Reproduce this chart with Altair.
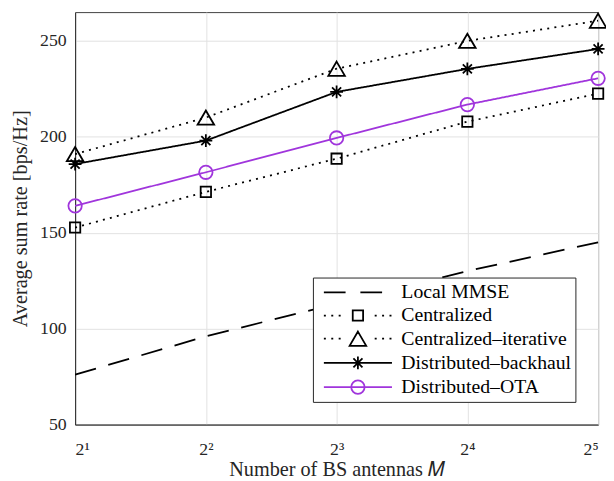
import altair as alt
import pandas as pd

# ---------------- data ----------------
M_values = [2, 4, 8, 16, 32]
x_tick_labels = ["2¹", "2²", "2³", "2⁴", "2⁵"]
y_ticks = [50, 100, 150, 200, 250]

series_names = ["Local MMSE", "Centralized", "Centralized–iterative",
                "Distributed–backhaul", "Distributed–OTA"]
local_mmse = [76, 96, 113, 130, 145]
centralized = [152.7, 171.3, 188.6, 207.9, 222.5]
centralized_iter = [191, 210, 235.5, 250, 260.5]
distributed_backhaul = [185.8, 198, 223.4, 235.4, 245.8]
distributed_ota = [164, 181.5, 199.4, 216.8, 230.5]

values = [local_mmse, centralized, centralized_iter, distributed_backhaul, distributed_ota]
rows = []
for name, vals in zip(series_names, values):
    for m, v in zip(M_values, vals):
        rows.append({"series": name, "M": m, "rate": v})
df = pd.DataFrame(rows)

# ---------------- styles ----------------
PURPLE = "#a035dc"
colors = ["black", "black", "black", "black", PURPLE]
dashes = [[22, 13], [2, 5.3], [2, 5.3], [1, 0], [1, 0]]
FONT = "Liberation Serif"
TXT = "#262626"


def f(v):
    return f"{v:.4f}".rstrip("0").rstrip(".")


def marker_path(kind, p):
    """p = pixels per path unit"""
    if kind == "square":
        a = 5.25 / p
        return f"M{f(-a)},{f(-a)}H{f(a)}V{f(a)}H{f(-a)}Z"
    if kind == "triangle":
        w, h = 8.4 / p, 7.2 / p
        return f"M0,{f(-h)}L{f(w)},{f(h)}L{f(-w)},{f(h)}Z"
    if kind == "circle":
        r = 6.8 / p
        return f"M{f(r)},0A{f(r)},{f(r)} 0 1,1 {f(-r)},0A{f(r)},{f(r)} 0 1,1 {f(r)},0Z"
    if kind == "asterisk":
        a = 6.5 / p
        d = a * 0.707
        return (f"M0,{f(-a)}V{f(a)}M{f(-a)},0H{f(a)}"
                f"M{f(-d)},{f(-d)}L{f(d)},{f(d)}M{f(-d)},{f(d)}L{f(d)},{f(-d)}")
    return ""


# plot markers
MARK_SIZE = 400
mp = (MARK_SIZE ** 0.5) / 2
marker_series = series_names[1:]
marker_kinds = ["square", "triangle", "asterisk", "circle"]
marker_paths = [marker_path(k, mp) for k in marker_kinds]

# legend symbols (line + marker); small nominal size so rows stay compact,
# the path itself extends beyond the unit box
LEG_SIZE = 400
lp = (LEG_SIZE ** 0.5) / 2


def seg(x0, x1):
    return f"M{f(x0 / lp)},0H{f(x1 / lp)}"


dots = "".join(seg(x, x + 2) for x in [-34.5, -27, -19.5, 17, 24.5, 32])
legend_paths = [
    seg(-34.5, -12.5) + seg(2.5, 24.5),
    dots + marker_path("square", lp),
    dots + marker_path("triangle", lp),
    seg(-34.5, 34.5) + marker_path("asterisk", lp),
    seg(-34.5, 34.5) + marker_path("circle", lp),
]

# ---------------- chart ----------------
x_enc = alt.X(
    "M:Q",
    scale=alt.Scale(type="log", base=2, domain=[2, 32], nice=False),
    axis=alt.Axis(values=M_values,
                  labelExpr="[" + ",".join(f"'{t}'" for t in x_tick_labels) + "][round(log(datum.value)/log(2))-1]",
                  title="Number of BS antennas 𝑀", labelPadding=16, titlePadding=2),
)
y_enc = alt.Y(
    "rate:Q",
    scale=alt.Scale(domain=[50, 265], nice=False, zero=False),
    axis=alt.Axis(values=y_ticks, title="Average sum rate [bps/Hz]",
                  labelPadding=9, titlePadding=9),
)
color_enc = alt.Color("series:N", scale=alt.Scale(domain=series_names, range=colors), legend=None)

lines = alt.Chart(df).mark_line(strokeWidth=1.8).encode(
    x=x_enc, y=y_enc, color=color_enc,
    strokeDash=alt.StrokeDash("series:N", scale=alt.Scale(domain=series_names, range=dashes), legend=None),
    detail="series:N",
)

points = alt.Chart(df[df["series"] != "Local MMSE"]).mark_point(
    filled=False, size=MARK_SIZE, strokeWidth=1.8, opacity=1
).encode(
    x=x_enc, y=y_enc, color=color_enc,
    shape=alt.Shape("series:N", scale=alt.Scale(domain=marker_series, range=marker_paths), legend=None),
)

legend = alt.Legend(
    title=None, orient="none", legendX=241, legendY=269,
    padding=4, fillColor="white", strokeColor=TXT, cornerRadius=0,
    labelFont=FONT, labelFontSize=20, labelColor="black", labelLimit=400,
    labelExpr="datum.label + '\u00a0\u00a0'",
    symbolSize=LEG_SIZE, symbolStrokeWidth=1.8, symbolOpacity=1,
    symbolOffset=30.6, labelOffset=33, rowPadding=2.5,
)

legend_layer = alt.Chart(pd.DataFrame({"series": series_names})).mark_point(
    filled=False, opacity=0
).encode(
    shape=alt.Shape("series:N", scale=alt.Scale(domain=series_names, range=legend_paths), legend=legend),
    stroke=alt.Stroke("series:N", scale=alt.Scale(domain=series_names, range=colors), legend=legend),
)

chart = alt.layer(lines, points, legend_layer).resolve_scale(
    shape="independent", stroke="independent"
).properties(
    width=530, height=418,
    autosize=alt.AutoSizeParams(type="none"),
    padding={"left": 68, "top": 1, "right": 8, "bottom": 53},
).configure_view(
    stroke="#404040", strokeWidth=1
).configure_axis(
    grid=True, gridColor="#e2e2e2", gridWidth=1,
    domainColor=TXT, domainWidth=1, tickSize=0,
    labelFont=FONT, labelFontSize=18, labelColor=TXT,
    titleFont=FONT, titleFontSize=20.5, titleFontWeight="normal", titleColor=TXT,
)

chart.save("out.html", embed_options={"renderer": "svg", "actions": False})
